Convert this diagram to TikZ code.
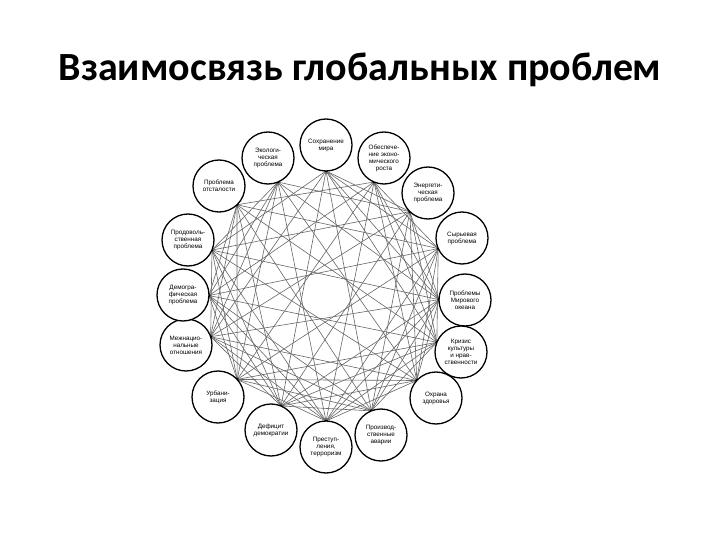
\documentclass[tikz,border=0pt]{standalone}
\usepackage{fontspec}
\usetikzlibrary{calc}
\setmainfont{Carlito}
\newfontfamily\smallf{Liberation Sans}
\begin{document}
\begin{tikzpicture}[x=1pt,y=-1pt,
  prob/.style={circle,draw,line width=1.3pt,minimum size=52pt,inner sep=0pt,align=center,font=\smallf\fontsize{6.3}{7}\selectfont,fill=white},
  link/.style={line width=0.6pt,black!60}]
\useasboundingbox (0,0) rectangle (720,540);
\node[font=\bfseries\fontsize{40}{46}\selectfont] (title) at (360,70) {Взаимосвязь глобальных проблем};
\coordinate (ctr) at (326,298);
\foreach \i/\x/\y in {1/326/145,2/384/158,3/428/193,4/462/238,5/465/300,6/461/352,7/436/398,8/381/435,9/326/447,10/271/430,11/218/397,12/186/345,13/183/295,14/188/240,15/219/186,16/268/158}{
  \coordinate (c\i) at (\x,\y);
  \coordinate (a\i) at ($(c\i)!26pt!(ctr)$);
}
\foreach \i in {1,...,16}{
  \foreach \j in {\i,...,16}{
    \pgfmathtruncatemacro\d{\j-\i}
    \ifnum\d>1 \ifnum\d<15 \ifodd\numexpr\i+\j*3\relax \draw[link] (a\i) -- (a\j);\else\ifnum\d<5 \draw[link] (a\i) -- (a\j);\fi\fi\fi\fi
  }
}
\foreach \i in {1,...,16}{\fill (a\i) circle (1.6pt);}
\foreach \i/\t in {
 1/{Сохранение\\мира},
 2/{Обеспече-\\ние эконо-\\мического\\роста},
 3/{Энергети-\\ческая\\проблема},
 4/{Сырьевая\\проблема},
 5/{Проблемы\\Мирового\\океана},
 6/{Кризис\\культуры\\и нрав-\\ственности},
 7/{Охрана\\здоровья},
 8/{Производ-\\ственные\\аварии},
 9/{Преступ-\\ления,\\терроризм},
 10/{Дефицит\\демократии},
 11/{Урбани-\\зация},
 12/{Межнацио-\\нальные\\отношения},
 13/{Демогра-\\фическая\\проблема},
 14/{Продоволь-\\ственная\\проблема},
 15/{Проблема\\отсталости},
 16/{Экологи-\\ческая\\проблема}}{
  \node[prob] (p\i) at (c\i) {\t};
}
\end{tikzpicture}
\end{document}
